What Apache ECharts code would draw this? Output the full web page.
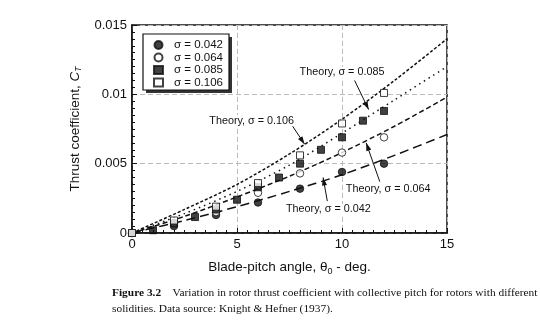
<!DOCTYPE html>
<html><head><meta charset="utf-8">
<script src="https://cdn.jsdelivr.net/npm/echarts@6/dist/echarts.min.js"></script>
<style>html,body{margin:0;padding:0;background:#fff}#c{width:540px;height:321px}</style>
</head><body><div id="c"></div>
<script>
// ---- data ----
const pitchMeasured = [0, 2, 4, 6, 8, 10, 12];
const ct042 = [0, 0.0005, 0.0013, 0.0022, 0.0032, 0.0044, 0.0050];
const ct064 = [0, 0.0007, 0.0015, 0.0029, 0.0043, 0.0058, 0.0069];
const pitch085 = [0, 1, 2, 3, 4, 5, 6, 7, 8, 9, 10, 11, 12];
const ct085 = [0, 0.0002, 0.0007, 0.00115, 0.0017, 0.0024, 0.0033, 0.0040, 0.0050, 0.0060, 0.0069, 0.0081, 0.0088];
const ct106 = [0, 0.0009, 0.0019, 0.0036, 0.0056, 0.0079, 0.0101];

const pitchTheory = [0, 2.5, 5, 7.5, 10, 12.5, 15];
const th042 = [0, 0.0009, 0.0019, 0.0030, 0.0042, 0.0056, 0.0071];
const th064 = [0, 0.0012, 0.0026, 0.0041, 0.0058, 0.0077, 0.0098];
const th085 = [0, 0.0014, 0.0030, 0.0049, 0.0072, 0.0096, 0.0120];
const th106 = [0, 0.0017, 0.0035, 0.0057, 0.0082, 0.0110, 0.0140];

const xTicks = [0, 5, 10, 15];
const yTicks = [0, 0.005, 0.01, 0.015];
const legendNames = ['σ = 0.042', 'σ = 0.064', 'σ = 0.085', 'σ = 0.106'];
// annotation texts, with their anchor (data coords) and arrow start/end (data coords)
const theoryLabels = ['Theory, σ = 0.085', 'Theory, σ = 0.106', 'Theory, σ = 0.064', 'Theory, σ = 0.042'];
const labelAt = [[10.0, 0.0116], [5.7, 0.0081], [12.2, 0.0032], [9.35, 0.0017]];
const arrowFrom = [[10.6, 0.0110], [7.65, 0.0077], [11.8, 0.0037], [9.3, 0.0023]];
const arrowTo = [[11.27, 0.0089], [8.22, 0.0064], [11.15, 0.0065], [9.1, 0.0040]];

const pair = (xs, ys) => xs.map((x, i) => [x, ys[i]]);
const SANS = 'Liberation Sans, Arial, sans-serif';
const SERIF = 'Liberation Serif, Times New Roman, serif';

const chart = echarts.init(document.getElementById('c'));

function theory(name, ys, dash) {
  return {
    name: name, type: 'line', data: pair(pitchTheory, ys), smooth: 0.3,
    showSymbol: false, symbol: 'none', z: 2, silent: true,
    lineStyle: { color: '#111', width: 1.5, type: dash, cap: 'butt' }
  };
}
function meas(name, xs, ys, symbol, filled) {
  return {
    name: name, type: 'scatter', data: pair(xs, ys), symbol: symbol,
    symbolSize: symbol === 'rect' ? 7 : 7.5, z: 5,
    itemStyle: { color: filled ? '#111' : '#fff', borderColor: '#111', borderWidth: 1 }
  };
}

const LEG = { left: 143, top: 34, w: 86, h: 56 };

const option = {
  animation: false,
  backgroundColor: '#fff',
  grid: { left: 132, right: 93, top: 25, bottom: 88, show: true, borderColor: '#111', borderWidth: 1.5, backgroundColor: 'transparent' },
  xAxis: {
    type: 'value', min: xTicks[0], max: xTicks[xTicks.length - 1], interval: 5,
    axisLine: { lineStyle: { color: '#111', width: 1.5 } },
    axisTick: { inside: true, length: 5, lineStyle: { color: '#111' } },
    minorTick: { show: true, splitNumber: 10, length: 3, lineStyle: { color: '#111' } },
    splitLine: { show: true, lineStyle: { color: '#bbb', type: [5, 3], width: 1 } },
    axisLabel: { color: '#111', fontFamily: SANS, fontSize: 13, margin: 5 },
    name: 'Blade-pitch angle, θ{s|0} - deg.', nameLocation: 'middle', nameGap: 25,
    nameTextStyle: { color: '#111', fontFamily: SANS, fontSize: 13.5,
      rich: { s: { fontSize: 9, fontFamily: SANS, color: '#111', padding: [9, 0, 0, 0] } } }
  },
  yAxis: {
    type: 'value', min: yTicks[0], max: yTicks[yTicks.length - 1], interval: 0.005,
    axisLine: { lineStyle: { color: '#111', width: 1.5 } },
    axisTick: { inside: true, length: 5, lineStyle: { color: '#111' } },
    minorTick: { show: true, splitNumber: 10, length: 3, lineStyle: { color: '#111' } },
    splitLine: { show: true, lineStyle: { color: '#bbb', type: [5, 3], width: 1 } },
    axisLabel: { color: '#111', fontFamily: SANS, fontSize: 13, margin: 5 },
    name: 'Thrust coefficient, {i|C}{s|T}', nameLocation: 'middle', nameGap: 44,
    nameTextStyle: { color: '#111', fontFamily: SANS, fontSize: 13.5,
      rich: { i: { fontStyle: 'italic', fontSize: 13.5, fontFamily: SANS, color: '#111' },
              s: { fontStyle: 'italic', fontSize: 8.5, fontFamily: SANS, color: '#111', padding: [8, 0, 0, 0] } } }
  },
  legend: {
    data: legendNames, orient: 'vertical', left: LEG.left + 10, top: LEG.top + 5, z: 10,
    itemWidth: 9, itemHeight: 8, itemGap: 0.5, padding: 0,
    textStyle: { color: '#111', fontFamily: SANS, fontSize: 11.5, lineHeight: 11.5, padding: [0, 0, 0, 6] },
    selectedMode: false
  },
  series: [
    theory('th042', th042, [9, 5]),
    theory('th064', th064, [5, 3]),
    theory('th085', th085, [1.5, 4]),
    theory('th106', th106, [3, 2]),
    meas(legendNames[0], pitchMeasured, ct042, 'circle', true),
    meas(legendNames[1], pitchMeasured, ct064, 'circle', false),
    meas(legendNames[2], pitch085, ct085, 'rect', true),
    meas(legendNames[3], pitchMeasured, ct106, 'rect', false)
  ]
};
chart.setOption(option);

const g = [];
// legend frame with drop shadow
g.push({ type: 'rect', z: 8, shape: { x: LEG.left + 3, y: LEG.top + 3, width: LEG.w, height: LEG.h },
  style: { fill: '#333' } });
g.push({ type: 'rect', z: 9, shape: { x: LEG.left, y: LEG.top, width: LEG.w, height: LEG.h },
  style: { fill: '#fff', stroke: '#111', lineWidth: 1.2 } });
// theory annotations
theoryLabels.forEach((t, i) => {
  const p = chart.convertToPixel({ gridIndex: 0 }, labelAt[i]);
  const a = chart.convertToPixel({ gridIndex: 0 }, arrowFrom[i]);
  const b = chart.convertToPixel({ gridIndex: 0 }, arrowTo[i]);
  g.push({ type: 'text', x: p[0], y: p[1], z: 20,
    style: { text: t, font: '10.8px ' + SANS, fill: '#111', align: 'center', verticalAlign: 'middle', backgroundColor: '#fff' } });
  g.push({ type: 'line', z: 20, shape: { x1: a[0], y1: a[1], x2: b[0], y2: b[1] }, style: { stroke: '#111', lineWidth: 1 } });
  const ang = Math.atan2(b[1] - a[1], b[0] - a[0]);
  const L = 8, W = 2.6;
  const bx = b[0] - L * Math.cos(ang), by = b[1] - L * Math.sin(ang);
  g.push({ type: 'polygon', z: 20, shape: { points: [[b[0], b[1]],
    [bx + W * Math.sin(ang), by - W * Math.cos(ang)], [bx - W * Math.sin(ang), by + W * Math.cos(ang)]] },
    style: { fill: '#111' } });
});
// caption
g.push({ type: 'text', left: 112, top: 288, z: 20,
  style: { text: '{b|Figure 3.2}    Variation in rotor thrust coefficient with collective pitch for rotors with different',
    font: '11.4px ' + SERIF, fill: '#111',
    rich: { b: { fontWeight: 'bold', fontFamily: SERIF, fontSize: 11.4, fill: '#111' } } } });
g.push({ type: 'text', left: 112, top: 304, z: 20,
  style: { text: 'solidities. Data source: Knight & Hefner (1937).', font: '11.4px ' + SERIF, fill: '#111' } });
chart.setOption({ graphic: g });
</script>
</body></html>
